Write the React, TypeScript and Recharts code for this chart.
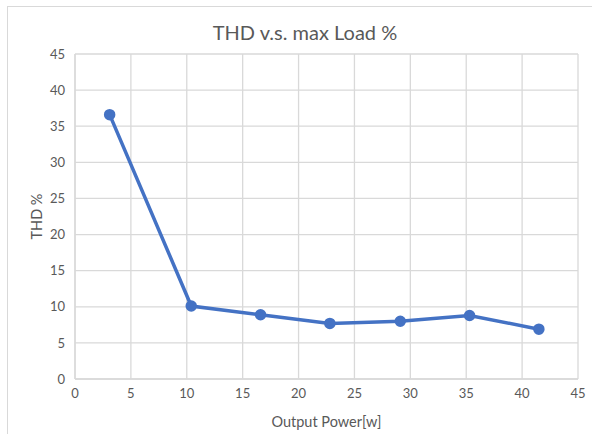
import { LineChart, Line, XAxis, YAxis, CartesianGrid } from "recharts";

const outputPower = [3.1, 10.4, 16.6, 22.8, 29.1, 35.3, 41.5];
const thdPercent = [36.6, 10.1, 8.9, 7.7, 8.0, 8.8, 6.9];
const xTicks = [0, 5, 10, 15, 20, 25, 30, 35, 40, 45];
const yTicks = [0, 5, 10, 15, 20, 25, 30, 35, 40, 45];

const data = outputPower.map((x, i) => ({ power: x, thd: thdPercent[i] }));

const font = "Lato, 'Open Sans', sans-serif";
const textColor = "#595959";
const gridColor = "#d9d9d9";

export default function App() {
  return (
    <div
      style={{
        position: "absolute",
        left: 0,
        top: 0,
        width: 592,
        height: 434,
        background: "#fff",
        overflow: "hidden",
        fontFamily: font,
      }}
    >
      {/* chart area border, clipped at the right and bottom */}
      <div
        style={{
          position: "absolute",
          left: 7,
          top: 6,
          width: 600,
          height: 440,
          border: "1px solid #d9d9d9",
        }}
      />
      <div
        style={{
          position: "absolute",
          left: 0,
          width: 610,
          top: 20,
          textAlign: "center",
          fontSize: 20,
          color: textColor,
        }}
      >
        THD v.s. max Load %
      </div>

      <div style={{ position: "absolute", left: 0, top: 0 }}>
        <LineChart
          width={592}
          height={434}
          data={data}
          margin={{ top: 54, right: 14, bottom: 5, left: 0 }}
        >
          <CartesianGrid stroke={gridColor} strokeWidth={1.3} />
          <XAxis
            dataKey="power"
            type="number"
            domain={[0, 45]}
            ticks={xTicks}
            height={50}
            stroke={gridColor}
            strokeWidth={1.3}
            tickLine={false}
            tickSize={0}
            tickMargin={10}
            tick={{ fill: textColor, fontSize: 13, fontFamily: font }}
            label={{
              value: "Output Power[w]",
              position: "insideBottom",
              offset: 2,
              fill: textColor,
              fontSize: 14.5,
              fontFamily: font,
            }}
          />
          <YAxis
            type="number"
            domain={[0, 45]}
            ticks={yTicks}
            width={75}
            stroke={gridColor}
            strokeWidth={1.3}
            tickLine={false}
            tickSize={0}
            tickMargin={10}
            tick={{ fill: textColor, fontSize: 13, fontFamily: font }}
            label={{
              value: "THD %",
              angle: -90,
              position: "insideLeft",
              offset: 37,
              style: { textAnchor: "middle" },
              fill: textColor,
              fontSize: 14.5,
              fontFamily: font,
            }}
          />
          <Line
            type="linear"
            dataKey="thd"
            stroke="#4472c4"
            strokeWidth={3.5}
            dot={{ fill: "#4472c4", stroke: "#4472c4", r: 4 }}
            isAnimationActive={false}
          />
        </LineChart>
      </div>
    </div>
  );
}
